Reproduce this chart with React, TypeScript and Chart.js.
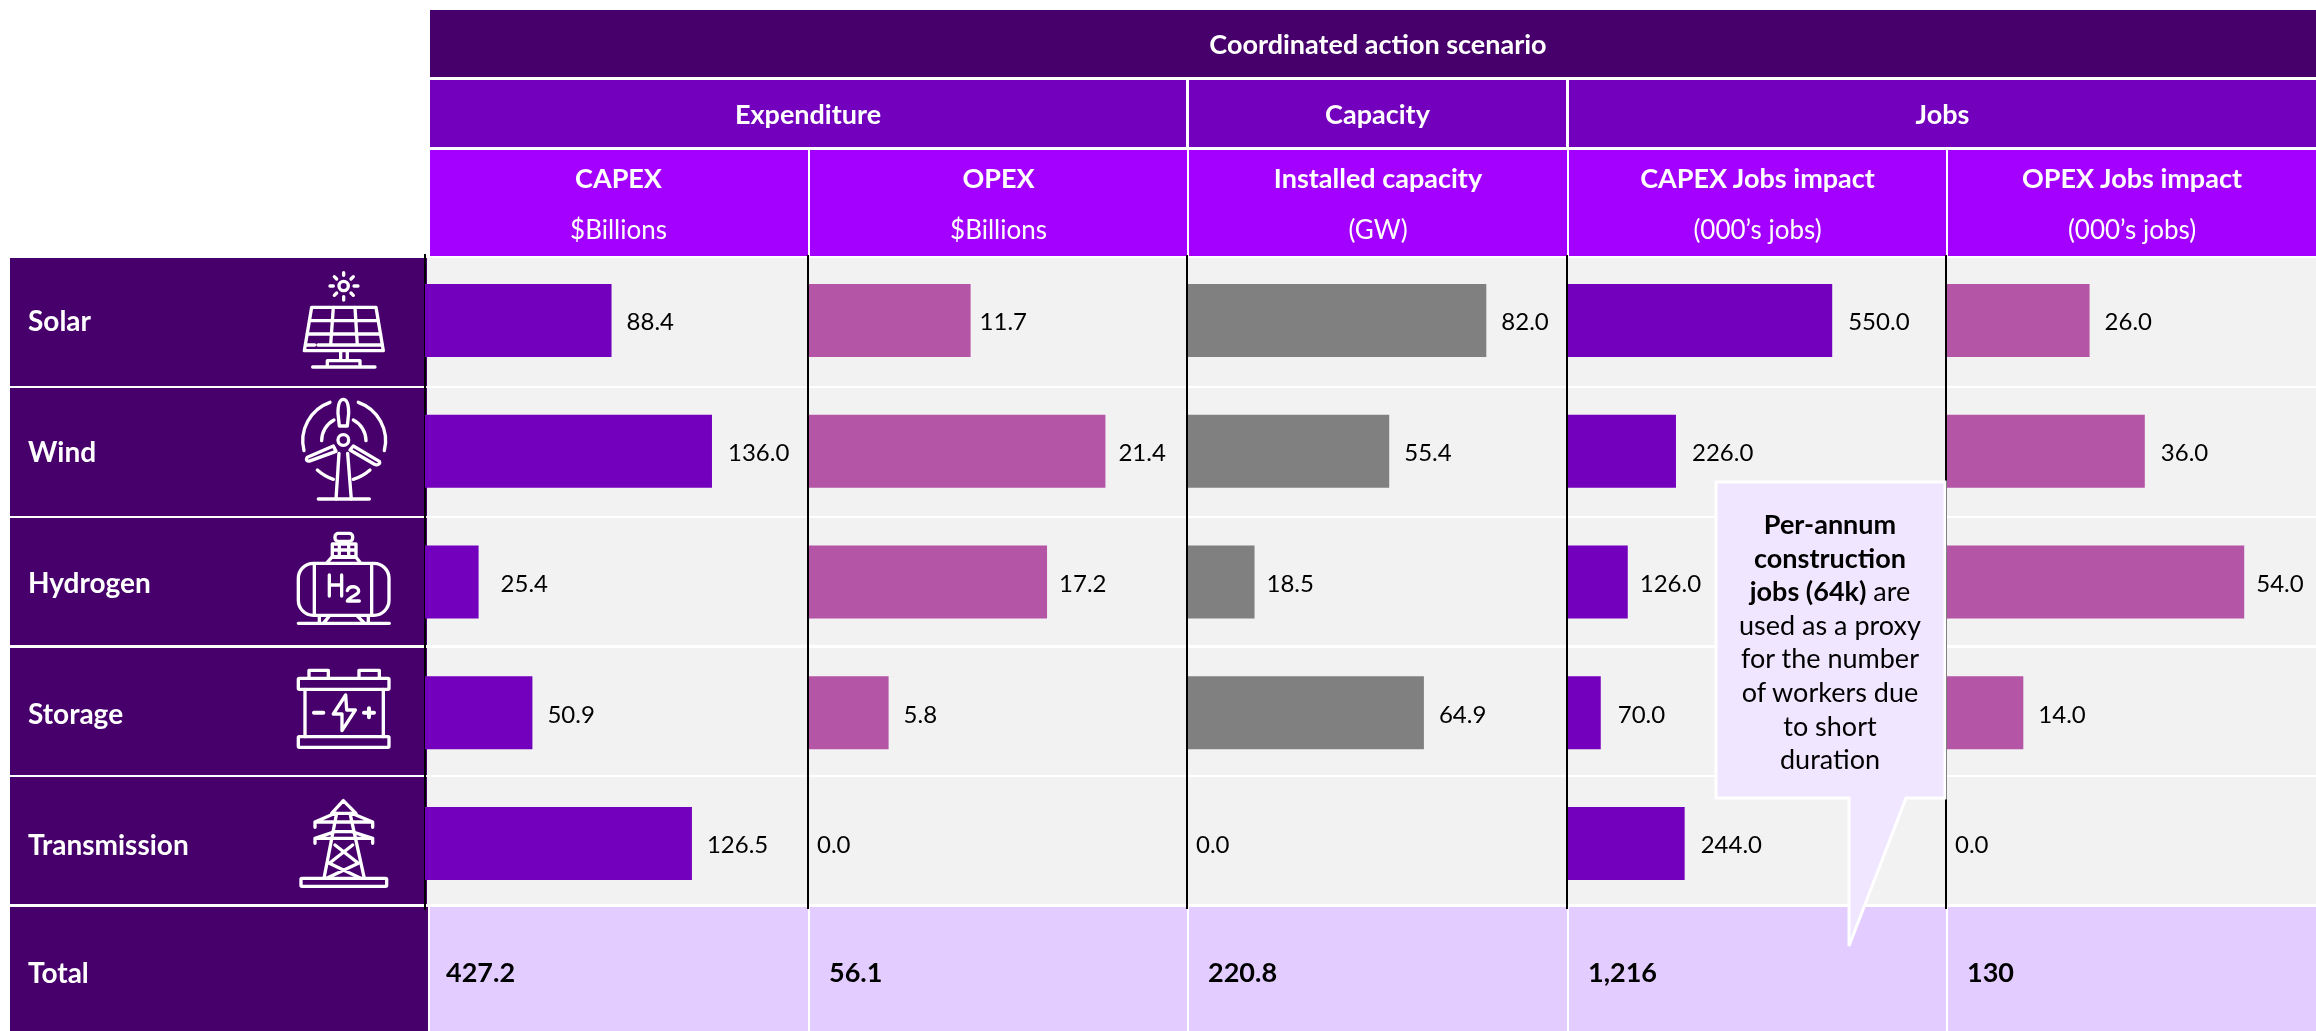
import React, { useEffect, useRef } from "react";
import { Chart, registerables } from "chart.js";

Chart.register(...registerables);

// ---- data ----
const categories = ["Solar", "Wind", "Hydrogen", "Storage", "Transmission"];
const capex = [88.4, 136.0, 25.4, 50.9, 126.5];
const opex = [11.7, 21.4, 17.2, 5.8, 0.0];
const capacity = [82.0, 55.4, 18.5, 64.9, 0.0];
const capexJobs = [550.0, 226.0, 126.0, 70.0, 244.0];
const opexJobs = [26.0, 36.0, 54.0, 14.0, 0.0];
const totals = ["427.2", "56.1", "220.8", "1,216", "130"];
const totalLabel = "Total";
const scenarioTitle = "Coordinated action scenario";
const groupTitles = ["Expenditure", "Capacity", "Jobs"];
const columnTitles = ["CAPEX", "OPEX", "Installed capacity", "CAPEX Jobs impact", "OPEX Jobs impact"];
const columnUnits = ["$Billions", "$Billions", "(GW)", "(000\u2019s jobs)", "(000\u2019s jobs)"];
const axisMaxima = [181.5, 27.27, 104.1, 786, 67];

// ---- layout and style ----
const W = 2316;
const H = 1031;
const FONT = "Lato, 'Open Sans', sans-serif";
const DARK = "#47006B";
const MID = "#7300BD";
const BRIGHT = "#A400FF";
const PINK = "#B455A6";
const GREY = "#808080";
const ROW_BG = "#F2F2F2";
const TOTAL_BG = "#E3CCFF";
const NOTE_BG = "#F1E6FF";
const edges = [425, 808, 1187, 1567, 1946, 2316];
const rowBands = [
  [258, 386],
  [388, 516],
  [518, 645],
  [648, 775],
  [777, 904],
];
const seriesList = [
  { data: capex, color: MID, labelShift: [0, 1, 7, 0, 0] },
  { data: opex, color: PINK, labelShift: [-6, -2, -3, 0, 0] },
  { data: capacity, color: GREY, labelShift: [0, 0, -3, 0, 0] },
  { data: capexJobs, color: MID, labelShift: [1, 1, -3, 2, 1] },
  { data: opexJobs, color: PINK, labelShift: [0, 1, -3, 0, 0] },
];

const box = (x0: number, y0: number, x1: number, y1: number, bg: string): React.CSSProperties => ({
  position: "absolute",
  left: x0,
  top: y0,
  width: x1 - x0,
  height: y1 - y0,
  background: bg,
});

function Label(props: { cx?: number; x?: number; cy: number; size: number; bold?: boolean; color?: string; children: React.ReactNode }) {
  const { cx, x, cy, size, bold, color, children } = props;
  const st: React.CSSProperties = {
    position: "absolute",
    top: cy - 30,
    height: 60,
    lineHeight: "60px",
    fontFamily: FONT,
    fontSize: size,
    fontWeight: bold ? 700 : 400,
    color: color || "#fff",
    whiteSpace: "pre",
  };
  if (cx !== undefined) {
    st.left = cx - 400;
    st.width = 800;
    st.textAlign = "center";
  } else {
    st.left = x;
  }
  return <div style={st}>{children}</div>;
}

const valueLabels = {
  id: "valueLabels",
  afterDatasetsDraw(chart: any) {
    const ctx = chart.ctx;
    ctx.save();
    ctx.font = `400 24px ${FONT}`;
    ctx.fillStyle = "#000";
    ctx.textBaseline = "middle";
    ctx.textAlign = "left";
    chart.data.datasets.forEach((ds: any, i: number) => {
      chart.getDatasetMeta(i).data.forEach((bar: any, j: number) => {
        const v = ds.data[j];
        const shift = seriesList[i].labelShift[j];
        ctx.fillText(v.toFixed(1), bar.x + (v === 0 ? 9 : 15) + shift, bar.y + 2);
      });
    });
    ctx.restore();
  },
};

const panelLines = {
  id: "panelLines",
  afterDatasetsDraw(chart: any) {
    const ctx = chart.ctx;
    const { top, bottom } = chart.chartArea;
    ctx.save();
    ctx.strokeStyle = "#000";
    ctx.lineWidth = 2;
    ["x2", "x3", "x4", "x5"].forEach((id) => {
      const x = chart.scales[id].left;
      ctx.beginPath();
      ctx.moveTo(x, top);
      ctx.lineTo(x, bottom);
      ctx.stroke();
    });
    ctx.restore();
  },
};

function Icons() {
  const s = { fill: "none", stroke: "#fff", strokeWidth: 10, strokeLinecap: "round", strokeLinejoin: "round" } as any;
  return (
    <svg width={W} height={H} style={{ position: "absolute", left: 0, top: 0 }}>
      <g transform="translate(270,250) scale(0.3333)" {...s}>
        {/* solar */}
        <circle cx="221" cy="108" r="14" />
        <path d="M221 68V76M221 140V150M180 108H190M252 108H264M193 80L200 87M250 80L243 87M193 136L200 129M250 136L243 129" />
        <path d="M125 172H318L340 302H103Z" />
        <path d="M119 212H325M112 252H332M144 285H336M110 285H134M190 172L182 285M255 172L262 285" />
        <path d="M212 302V332M232 302V332M172 348V332H270V348M128 351H315" />
        {/* wind */}
        <circle cx="220" cy="570" r="16" />
        <path d="M220 448C232 448 236 470 236 490L232 528H208L204 490C204 470 208 448 220 448Z" />
        <path d="M190 588L112 622C106 630 112 636 122 632L198 604Z" />
        <path d="M250 588L328 634C332 642 322 648 312 642L240 600Z" />
        <path d="M207 610L198 748M233 610L244 748M145 747H298" />
        <path d="M180 457A122 122 0 0 0 102 602M265 457A122 122 0 0 1 343 602M192 510A70 70 0 0 0 155 572M250 510A70 70 0 0 1 288 572M142 660Q165 680 190 688M250 688Q277 680 300 660" />
      </g>
      <g transform="translate(270,530) scale(0.3333)" {...s}>
        {/* hydrogen */}
        <rect x="195" y="10" width="53" height="24" rx="10" />
        <path d="M187 42H258V80H187ZM187 60H258M208 42V80M236 42V80M172 97L185 82H258L270 97" />
        <rect x="85" y="100" width="272" height="156" rx="45" />
        <path d="M133 102V255M305 102V255M85 280H358M148 258V278M295 258V278M162 278L178 258M262 258L282 278" />
        <path d="M178 135V198M215 135V198M178 165H215M232 182C236 166 266 166 266 184C266 196 240 198 232 213H268" />
        {/* storage */}
        <rect x="85" y="445" width="272" height="33" rx="3" />
        <path d="M117 442V421H175V442M267 442V421H328V442M105 478V620M340 478V620" />
        <rect x="85" y="620" width="272" height="32" rx="3" />
        <path d="M132 548H160M282 548H312M297 535V562" strokeWidth="12" />
        <path d="M227 495L190 552H216V602L256 540H230Z" />
        {/* transmission */}
        <path d="M185 850L220 812L258 850M135 892V876L195 850H245L308 876V892M135 876H308M135 940V925L195 905H245L308 925V940M135 925H308M200 850L162 1045M240 850L283 1045M195 945L265 1000M248 945L178 1000M178 1000L272 1045M265 1000L170 1045" />
        <rect x="93" y="1045" width="257" height="24" rx="3" />
      </g>
    </svg>
  );
}

export default function App() {
  const ref = useRef<HTMLCanvasElement | null>(null);

  useEffect(() => {
    document.body.style.margin = "0";
    document.body.style.overflow = "hidden";
    const scales: any = {
      y: {
        type: "category",
        position: "left",
        offset: true,
        grid: { display: false, drawTicks: false },
        border: { display: true, color: "#000", width: 2 },
        ticks: {
          crossAlign: "far",
          padding: 0,
          labelOffset: 2,
          color: "#fff",
          font: { family: FONT, size: 28, weight: "700" },
        },
        afterFit(scale: any) {
          scale.width = edges[0] - 28;
        },
      },
    };
    axisMaxima.forEach((max, i) => {
      scales[`x${i + 1}`] = {
        type: "linear",
        axis: "x",
        position: "bottom",
        display: false,
        min: 0,
        max,
        stack: "panels",
        stackWeight: edges[i + 1] - edges[i],
      };
    });
    const chart = new Chart(ref.current as HTMLCanvasElement, {
      type: "bar",
      data: {
        labels: categories,
        datasets: seriesList.map((s, i) => ({
          label: columnTitles[i],
          data: s.data,
          backgroundColor: s.color,
          xAxisID: `x${i + 1}`,
          yAxisID: "y",
          grouped: false,
          barPercentage: 0.558,
          categoryPercentage: 1,
        })),
      },
      options: {
        indexAxis: "y",
        responsive: false,
        animation: false,
        layout: { padding: { left: 28, right: 0, top: 255, bottom: H - 909 } },
        plugins: { legend: { display: false }, title: { display: false }, tooltip: { enabled: false } },
        scales,
      } as any,
      plugins: [valueLabels, panelLines],
    } as any);
    return () => chart.destroy();
  }, []);

  const groupSpans = [
    [430, 1186],
    [1189, 1566],
    [1569, 2316],
  ];
  const notePath = "M1716 482H1945V798H1906L1849 946V798H1716Z";

  return (
    <div style={{ position: "absolute", left: 0, top: 0, width: W, height: H, overflow: "hidden", background: "#fff" }}>
      {/* table behind the chart */}
      <div style={box(430, 10, W, 77, DARK)} />
      {groupSpans.map(([a, b], i) => (
        <div key={i} style={box(a, 80, b, 147, MID)} />
      ))}
      {edges.slice(0, 5).map((e, i) => (
        <div key={i} style={box(i === 0 ? 430 : e + 2, 150, i === 4 ? W : edges[i + 1], 256, BRIGHT)} />
      ))}
      {rowBands.map(([a, b], i) => (
        <React.Fragment key={i}>
          <div style={box(10, a, 427, b, DARK)} />
          <div style={box(427, a, W, b, ROW_BG)} />
        </React.Fragment>
      ))}
      <div style={box(10, 907, 428, H, DARK)} />
      {edges.slice(0, 5).map((e, i) => (
        <div key={i} style={box(i === 0 ? 430 : e + 2, 907, i === 4 ? W : edges[i + 1], H, TOTAL_BG)} />
      ))}

      <canvas ref={ref} width={W} height={H} style={{ position: "absolute", left: 0, top: 0, display: "block" }} />

      <Icons />

      {/* header text */}
      <Label cx={1378} cy={44} size={27} bold>{scenarioTitle}</Label>
      {groupTitles.map((t, i) => (
        <Label key={t} cx={(groupSpans[i][0] + groupSpans[i][1]) / 2} cy={114} size={27} bold>{t}</Label>
      ))}
      {columnTitles.map((t, i) => (
        <Label key={t} cx={(edges[i] + edges[i + 1]) / 2 + (i === 0 ? 2 : 1)} cy={178} size={27} bold>{t}</Label>
      ))}
      {columnUnits.map((t, i) => (
        <Label key={i} cx={(edges[i] + edges[i + 1]) / 2 + (i === 0 ? 2 : 1)} cy={229} size={26}>{t}</Label>
      ))}

      {/* total row */}
      <Label x={28} cy={972} size={28} bold>{totalLabel}</Label>
      {totals.map((t, i) => (
        <Label key={i} x={edges[i] + 21} cy={972} size={27} bold color="#000">{t}</Label>
      ))}

      {/* call-out */}
      <svg width={W} height={H} style={{ position: "absolute", left: 0, top: 0 }}>
        <path d={notePath} fill={NOTE_BG} stroke="#fff" strokeWidth={3} />
      </svg>
      <Label cx={1830} cy={524} size={27} bold color="#000">Per-annum</Label>
      <Label cx={1830} cy={558} size={27} bold color="#000">construction</Label>
      <Label cx={1830} cy={591} size={27} color="#000"><b>jobs (64k)</b> are</Label>
      <Label cx={1830} cy={625} size={27} color="#000">used as a proxy</Label>
      <Label cx={1830} cy={658} size={27} color="#000">for the number</Label>
      <Label cx={1830} cy={692} size={27} color="#000">of workers due</Label>
      <Label cx={1830} cy={726} size={27} color="#000">to short</Label>
      <Label cx={1830} cy={759} size={27} color="#000">duration</Label>
    </div>
  );
}
